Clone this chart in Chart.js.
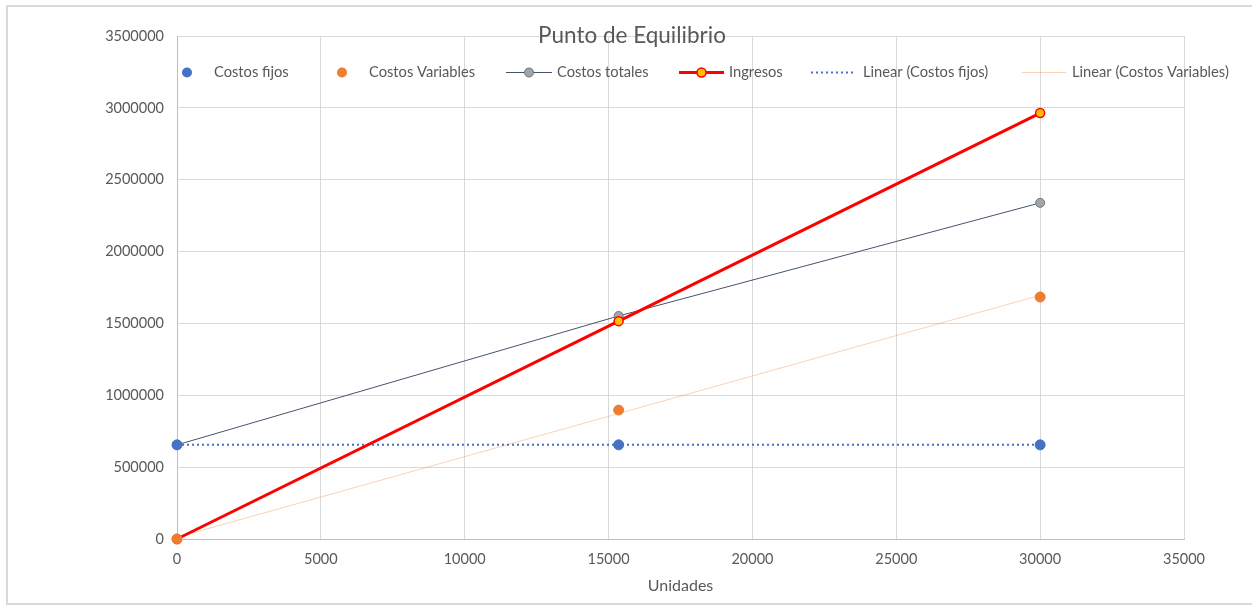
<!DOCTYPE html>
<html>
<head>
<meta charset="utf-8">
<script src="https://cdn.jsdelivr.net/npm/chart.js@4/dist/chart.umd.min.js"></script>
<style>
  html, body { margin: 0; padding: 0; background: #ffffff; overflow: hidden; }
  #frame { position: absolute; left: 6px; top: 5px; width: 1260px; height: 596px; border: 2px solid #d9d9d9; }
  #wrap { position: absolute; left: 0; top: 0; width: 1252px; height: 605px; }
</style>
</head>
<body>
<div id="frame"></div>
<div id="wrap"><canvas id="c" width="1252" height="605"></canvas></div>
<script>
// Break-even data: units produced and the cost / revenue at each level
const unidades = [0, 15350, 30000];
const costosFijos = [655000, 655000, 655000];
const costosVariables = [0, 897000, 1684000];
const costosTotales = [655000, 1552000, 2339000];
const ingresos = [0, 1516000, 2964000];

const tituloGrafico = 'Punto de Equilibrio';
const tituloEjeX = 'Unidades';
const xMax = 35000, xPaso = 5000;
const yMax = 3500000, yPaso = 500000;

const FONT = 'Lato, "Noto Sans", sans-serif';
const GRIS_TEXTO = '#595959';

const pts = (xs, ys) => xs.map((x, i) => ({ x: x, y: ys[i] }));

// Least-squares linear trend over the observed range
function tendencia(xs, ys) {
  const n = xs.length;
  const mx = xs.reduce((a, b) => a + b, 0) / n;
  const my = ys.reduce((a, b) => a + b, 0) / n;
  let sxy = 0, sxx = 0;
  for (let i = 0; i < n; i++) { sxy += (xs[i] - mx) * (ys[i] - my); sxx += (xs[i] - mx) ** 2; }
  const m = sxy / sxx, b = my - m * mx;
  const x0 = Math.min(...xs), x1 = Math.max(...xs);
  return [{ x: x0, y: b + m * x0 }, { x: x1, y: b + m * x1 }];
}

const AZUL = '#4472C4', NARANJA = '#ED7D31', PIZARRA = '#44546A', ROJO = '#FF0000', AMARILLO = '#FFC000';

const datasets = [
  { label: 'Costos fijos', data: pts(unidades, costosFijos), showLine: false, clip: false,
    pointRadius: 5, pointBackgroundColor: AZUL, pointBorderColor: AZUL, pointBorderWidth: 1, order: 0 },
  { label: 'Costos Variables', data: pts(unidades, costosVariables), showLine: false, clip: false,
    pointRadius: 5, pointBackgroundColor: NARANJA, pointBorderColor: NARANJA, pointBorderWidth: 1, order: 1 },
  { label: 'Costos totales', data: pts(unidades, costosTotales), showLine: true, clip: false,
    borderColor: PIZARRA, borderWidth: 1, pointRadius: 4.5, pointBackgroundColor: '#A5A5A5',
    pointBorderColor: '#6b7585', pointBorderWidth: 1, order: 3 },
  { label: 'Ingresos', data: pts(unidades, ingresos), showLine: true, clip: false,
    borderColor: ROJO, borderWidth: 3, pointRadius: 4.5, pointBackgroundColor: AMARILLO,
    pointBorderColor: ROJO, pointBorderWidth: 1.5, order: 2 },
  { label: 'Linear (Costos fijos)', data: tendencia(unidades, costosFijos), showLine: true, clip: false,
    borderColor: AZUL, borderWidth: 2, borderDash: [2, 3], pointRadius: 0, order: 4 },
  { label: 'Linear (Costos Variables)', data: tendencia(unidades, costosVariables), showLine: true, clip: false,
    borderColor: 'rgba(237,125,49,0.35)', borderWidth: 1, pointRadius: 0, order: 5 }
];

// Legend row drawn inside the plot area, plus the chart title
const leyendaX = [
  { sym: 187, txt: 214 },
  { sym: 342, txt: 369 },
  { sym: [506, 552], txt: 557 },
  { sym: [679, 724], txt: 729 },
  { sym: [811, 854], txt: 863 },
  { sym: [1022, 1066], txt: 1072 }
];

const decoracion = {
  id: 'decoracion',
  afterDatasetsDraw(chart) {
    const ctx = chart.ctx;
    const ly = 72;
    ctx.save();
    chart.data.datasets.forEach((ds, i) => {
      const pos = leyendaX[i];
      if (Array.isArray(pos.sym)) {
        ctx.beginPath();
        ctx.strokeStyle = ds.borderColor;
        ctx.lineWidth = ds.borderWidth;
        ctx.setLineDash(ds.borderDash || []);
        ctx.moveTo(pos.sym[0], ly + 0.5);
        ctx.lineTo(pos.sym[1], ly + 0.5);
        ctx.stroke();
        ctx.setLineDash([]);
        if (ds.pointRadius > 0) {
          const cx = (pos.sym[0] + pos.sym[1]) / 2;
          ctx.beginPath();
          ctx.arc(cx, ly + 0.5, ds.pointRadius, 0, Math.PI * 2);
          ctx.fillStyle = ds.pointBackgroundColor;
          ctx.fill();
          ctx.lineWidth = ds.pointBorderWidth;
          ctx.strokeStyle = ds.pointBorderColor;
          ctx.stroke();
        }
      } else {
        ctx.beginPath();
        ctx.arc(pos.sym, ly + 0.5, ds.pointRadius, 0, Math.PI * 2);
        ctx.fillStyle = ds.pointBackgroundColor;
        ctx.fill();
      }
      ctx.fillStyle = GRIS_TEXTO;
      ctx.font = '14.7px ' + FONT;
      ctx.textAlign = 'left';
      ctx.textBaseline = 'middle';
      ctx.fillText(ds.label, pos.txt, ly);
    });
    // title
    ctx.fillStyle = GRIS_TEXTO;
    ctx.font = '22.5px ' + FONT;
    ctx.textAlign = 'center';
    ctx.textBaseline = 'middle';
    ctx.fillText(tituloGrafico, 632, 36);
    ctx.restore();
  }
};

new Chart(document.getElementById('c'), {
  type: 'scatter',
  data: { datasets: datasets },
  options: {
    responsive: false,
    animation: false,
    layout: { padding: { left: 0, right: 68, top: 36, bottom: 0 } },
    plugins: { legend: { display: false }, title: { display: false }, tooltip: { enabled: false } },
    scales: {
      x: {
        type: 'linear', min: 0, max: xMax,
        ticks: { stepSize: xPaso, color: GRIS_TEXTO, font: { family: FONT, size: 14.5 }, padding: 12,
                 callback: v => String(v), maxRotation: 0 },
        grid: { color: '#d9d9d9', lineWidth: 1, drawTicks: false },
        border: { color: '#bfbfbf', width: 1 },
        title: { display: true, text: tituloEjeX, color: GRIS_TEXTO, font: { family: FONT, size: 16 },
                 padding: { top: 4, bottom: 10 } },
        afterFit: s => { s.height = 66; }
      },
      y: {
        type: 'linear', min: 0, max: yMax,
        ticks: { stepSize: yPaso, color: GRIS_TEXTO, font: { family: FONT, size: 14.5 }, padding: 13,
                 callback: v => String(v) },
        grid: { color: '#d9d9d9', lineWidth: 1, drawTicks: false },
        border: { color: '#bfbfbf', width: 1 },
        afterFit: s => { s.width = 177; }
      }
    }
  },
  plugins: [decoracion]
});
</script>
</body>
</html>
